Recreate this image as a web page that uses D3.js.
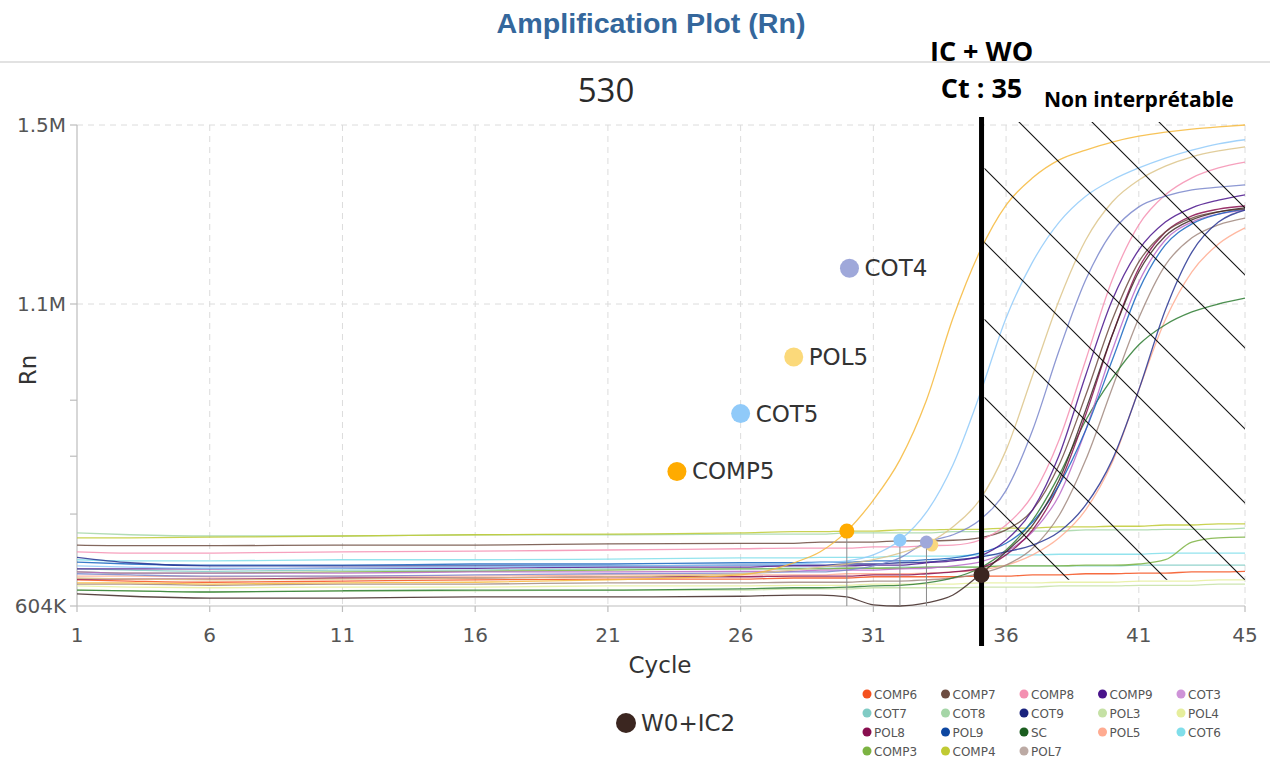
<!DOCTYPE html>
<html lang="fr">
<head>
  <meta charset="UTF-8">
  <title>Amplification Plot (Rn)</title>
  <script src="https://cdn.jsdelivr.net/npm/d3@7"></script>
  <style>
    body { margin: 0; background: #fff; }
    svg text { font-family: "DejaVu Sans", sans-serif; }
    .grid { stroke: #dcdcdc; stroke-width: 1; stroke-dasharray: 6 5; }
    .axis-line { stroke: #bdbdbd; stroke-width: 1.2; }
    .tick-label { fill: #555; font-size: 20px; }
    .curve { fill: none; stroke-width: 1.3; stroke-opacity: 0.85; }
    .hatch { stroke: #111; stroke-width: 1.1; }
    .legend-text { fill: #555; font-size: 12px; }
    .note { font-family: "Open Sans", "Noto Sans", sans-serif; font-weight: 700; fill: #000; }
  </style>
</head>
<body>
  <svg id="chart" width="1270" height="760"></svg>

  <script>
    const cycles = [1, 3, 6, 11, 16, 21, 26, 28, 29, 30, 31, 32, 33, 34, 35, 36, 37, 38, 39, 40, 41, 42, 43, 44, 45];

    // Rn values, in thousands
    const COMP5 = [642,642,640,642,643,647,655,675,693,727,778,844,942,1077,1216,1321,1382,1422,1444,1462,1475,1484,1491,1496,1500];
    const COT5  = [670,668,666,666,668,670,671,673,675,678,688,712,758,836,950,1077,1194,1283,1341,1377,1404,1426,1444,1458,1467];
    const POL5_Y = [650,648,647,648,650,652,657,663,668,673,680,691,706,734,778,860,983,1109,1243,1328,1377,1408,1429,1442,1451];
    const COT4  = [657,655,653,653,655,657,658,660,660,663,670,683,709,721,745,794,893,1024,1154,1261,1317,1341,1355,1361,1366];
    const COMP8 = [693,691,691,693,694,696,698,699,699,699,701,701,703,704,712,737,786,877,1008,1154,1277,1344,1382,1404,1417];
    const COMP9 = [665,665,665,666,666,668,668,670,670,670,671,671,675,678,686,712,762,852,983,1109,1221,1283,1315,1332,1344];
    const POL8  = [648,648,648,650,650,652,652,653,653,653,655,655,657,660,666,688,729,803,918,1049,1180,1261,1297,1312,1319];
    const COT9  = [684,675,670,670,670,670,671,671,671,673,673,675,676,680,684,693,704,726,770,844,959,1090,1216,1283,1310];
    const POL9  = [676,673,671,671,673,673,675,675,676,676,678,678,680,683,691,707,742,803,893,1008,1131,1232,1279,1301,1312];
    const SC    = [630,629,627,629,630,630,632,634,634,635,637,638,642,650,666,696,745,819,909,978,1033,1066,1087,1100,1113];
    const COMP7 = [704,703,703,704,704,706,707,707,709,709,709,711,711,712,716,729,762,836,950,1074,1194,1261,1292,1306,1312];
    const COT3  = [660,658,658,658,660,660,661,661,663,663,663,665,666,670,676,693,726,786,893,1024,1149,1243,1283,1301,1310];
    const POL7  = [640,640,638,640,640,642,642,643,643,643,645,645,647,650,657,671,699,753,844,962,1077,1187,1248,1277,1292];
    const POL5  = [653,653,652,653,653,655,655,655,655,657,657,657,658,660,663,671,688,716,762,840,959,1074,1172,1234,1270];
    const W0IC2 = [624,620,617,617,619,619,620,622,622,619,606,604,609,622,655,693,737,811,926,1049,1172,1252,1288,1306,1315];
    const COMP4 = [716,716,717,719,721,722,724,726,726,727,727,729,729,730,730,732,732,734,734,735,735,737,737,739,739];
    const COT8  = [724,721,719,719,721,721,722,722,722,724,724,724,724,726,726,727,727,727,729,729,729,730,730,730,732];
    const COMP3 = [660,658,658,660,661,663,665,665,665,666,666,666,668,668,668,670,670,670,671,671,673,680,709,716,717];
    const COT6  = [680,678,678,680,680,681,683,683,684,684,684,686,686,686,688,688,688,689,689,689,689,691,691,691,691];
    const COMP6 = [647,645,643,645,647,648,648,650,650,650,652,652,652,652,653,653,655,655,657,657,658,658,660,660,661];
    const POL3  = [630,629,627,629,629,630,630,632,632,632,634,634,634,634,635,635,635,637,637,637,638,638,638,640,640];
    const POL4  = [637,635,634,635,635,637,637,638,638,638,640,640,640,640,642,642,642,643,643,643,645,645,645,647,647];
    const COT7  = [665,663,661,663,663,665,665,666,666,666,666,668,668,668,668,670,670,670,670,670,671,671,671,671,671];

    // Legend (order as in the picture)
    const legendNames  = ['COMP6','COMP7','COMP8','COMP9','COT3','COT7','COT8','COT9','POL3','POL4','POL8','POL9','SC','POL5','COT6','COMP3','COMP4','POL7'];
    const legendColors = ['#f4511e','#6d4c41','#f48fb1','#4a148c','#ce93d8','#80cbc4','#a5d6a7','#1a237e','#c5e1a5','#e6ee9c','#880e4f','#0d47a1','#1b5e20','#ffab91','#80deea','#7cb342','#c0ca33','#bcaaa4'];

    // Ct markers: cycle, Rn (K); POL5 has no drop line
    const ctNames  = ['COMP5', 'COT5', 'POL5', 'COT4'];
    const ctCycles = [30, 32, 33.2, 33];
    const ctRn     = [727, 712, 704, 709];
    const ctColors = ['#ffab00', '#90caf9', '#f9d77e', '#9fa8da'];

    // Labelled wells floating in the plot: cycle, Rn (K)
    const tagNames  = ['COT4', 'POL5', 'COT5', 'COMP5'];
    const tagCycles = [30.1, 28.0, 26.0, 23.6];
    const tagRn     = [1180, 1013, 920, 825];
    const tagColors = ['#9fa8da', '#fbd97a', '#90caf9', '#ffab00'];

    const xTicks = [1, 6, 11, 16, 21, 26, 31, 36, 41, 45];
    const yTicks = [604, 1100, 1500];
    const yTickLabels = ['604K', '1.1M', '1.5M'];
    const yMinorTicks = [755, 850, 942];

    const ctLine = 35;          // IC + WO Ct
    const ctLineRn = 655;
    const hatchOffsets = [-1037, -970, -897, -816, -742, -665, -587, -489];

    // ---- drawing ----
    const svg = d3.select('#chart');
    const x = d3.scaleLinear().domain([1, 45]).range([77, 1245]);
    const y = d3.scaleLinear().domain([604, 1100, 1500]).range([606, 304, 125]);

    // header
    svg.append('text')
      .attr('x', 651).attr('y', 33)
      .attr('text-anchor', 'middle')
      .attr('textLength', 309).attr('lengthAdjust', 'spacingAndGlyphs')
      .style('font-family', '"Liberation Sans Narrow", "Liberation Sans", Arial, sans-serif')
      .style('font-weight', 700).style('font-size', '27px')
      .style('fill', '#34679c')
      .text('Amplification Plot (Rn)');

    svg.append('line')
      .attr('x1', 0).attr('x2', 1270).attr('y1', 62).attr('y2', 62)
      .style('stroke', '#e2e2e2').style('stroke-width', 2);

    svg.append('text')
      .attr('x', 606).attr('y', 102)
      .attr('text-anchor', 'middle')
      .style('font-family', '"Open Sans", sans-serif')
      .style('font-size', '33px').style('fill', '#2a2a2a')
      .text('530');

    // grid
    const grid = svg.append('g');
    grid.selectAll('.vg').data(xTicks.slice(1)).enter().append('line')
      .attr('class', 'grid')
      .attr('x1', d => x(d)).attr('x2', d => x(d))
      .attr('y1', y(1500)).attr('y2', y(604));
    grid.selectAll('.hg').data([1100, 1500]).enter().append('line')
      .attr('class', 'grid')
      .attr('x1', x(1)).attr('x2', x(45))
      .attr('y1', d => y(d)).attr('y2', d => y(d));

    // axes
    const axes = svg.append('g');
    axes.append('line').attr('class', 'axis-line')
      .attr('x1', x(1)).attr('x2', x(1)).attr('y1', y(1500)).attr('y2', y(604));
    axes.append('line').attr('class', 'axis-line')
      .attr('x1', x(1)).attr('x2', x(45)).attr('y1', y(604)).attr('y2', y(604));

    axes.selectAll('.yt').data(yTicks.concat(yMinorTicks)).enter().append('line')
      .attr('class', 'axis-line')
      .attr('x1', x(1) - 7).attr('x2', x(1))
      .attr('y1', d => y(d)).attr('y2', d => y(d));
    axes.selectAll('.yl').data(yTicks).enter().append('text')
      .attr('class', 'tick-label')
      .attr('x', x(1) - 11).attr('y', d => y(d) + 7)
      .attr('text-anchor', 'end')
      .text((d, i) => yTickLabels[i]);

    axes.selectAll('.xt').data(xTicks).enter().append('line')
      .attr('class', 'axis-line')
      .attr('x1', d => x(d)).attr('x2', d => x(d))
      .attr('y1', y(604)).attr('y2', y(604) + 6);
    axes.selectAll('.xl').data(xTicks).enter().append('text')
      .attr('class', 'tick-label')
      .attr('x', d => x(d)).attr('y', 642)
      .attr('text-anchor', 'middle')
      .text(d => d);

    svg.append('text')
      .attr('x', 660).attr('y', 673)
      .attr('text-anchor', 'middle')
      .style('font-size', '23px').style('fill', '#333')
      .text('Cycle');
    svg.append('text')
      .attr('transform', 'translate(36,370) rotate(-90)')
      .attr('text-anchor', 'middle')
      .style('font-size', '23px').style('fill', '#333')
      .text('Rn');

    // amplification curves, flat ones first
    const series = [
      { values: POL3,  color: '#c5e1a5' },
      { values: POL4,  color: '#e6ee9c' },
      { values: COMP6, color: '#f4511e' },
      { values: COT7,  color: '#80cbc4' },
      { values: COT6,  color: '#80deea' },
      { values: COMP3, color: '#7cb342' },
      { values: COT8,  color: '#a5d6a7' },
      { values: COMP4, color: '#c0ca33' },
      { values: POL5,  color: '#ffab91' },
      { values: POL7,  color: '#a1887f' },
      { values: SC,    color: '#2e7d32' },
      { values: COT3,  color: '#ba68c8' },
      { values: POL8,  color: '#880e4f' },
      { values: POL9,  color: '#1565c0' },
      { values: COT9,  color: '#283593' },
      { values: COMP7, color: '#6d4c41' },
      { values: COMP9, color: '#4a148c' },
      { values: W0IC2, color: '#3e2723' },
      { values: COMP8, color: '#f48fb1' },
      { values: COT4,  color: '#7986cb' },
      { values: POL5_Y, color: '#dcc48a' },
      { values: COT5,  color: '#90caf9' },
      { values: COMP5, color: '#f6b93b' }
    ];

    const line = d3.line()
      .x((d, i) => x(cycles[i]))
      .y(d => y(d))
      .curve(d3.curveMonotoneX);

    svg.append('g').selectAll('path').data(series).enter().append('path')
      .attr('class', 'curve')
      .attr('d', d => line(d.values))
      .style('stroke', d => d.color);

    // Ct drop lines
    const dropIdx = ctNames.map((n, i) => i).filter(i => ctNames[i] !== 'POL5');
    svg.append('g').selectAll('line').data(dropIdx).enter().append('line')
      .attr('x1', i => x(ctCycles[i])).attr('x2', i => x(ctCycles[i]))
      .attr('y1', i => y(ctRn[i])).attr('y2', y(604))
      .style('stroke', '#8a8a8a').style('stroke-width', 1);

    // hatched "non interprétable" zone
    svg.append('clipPath').attr('id', 'hatch-clip')
      .append('rect')
      .attr('x', x(ctLine) + 5).attr('y', y(1500) - 3)
      .attr('width', x(45) - x(ctLine) - 5)
      .attr('height', y(647) - y(1500) + 3);
    svg.append('g').attr('clip-path', 'url(#hatch-clip)')
      .selectAll('line').data(hatchOffsets).enter().append('line')
      .attr('class', 'hatch')
      .attr('x1', 900).attr('y1', d => 900 + d)
      .attr('x2', 1300).attr('y2', d => 1300 + d);

    // Ct = 35 line
    svg.append('line')
      .attr('x1', x(ctLine) + 2).attr('x2', x(ctLine) + 2)
      .attr('y1', 117).attr('y2', 646)
      .style('stroke', '#000').style('stroke-width', 5);

    // Ct dots
    svg.append('g').selectAll('circle').data(ctCycles).enter().append('circle')
      .attr('cx', d => x(d)).attr('cy', (d, i) => y(ctRn[i]))
      .attr('r', (d, i) => i === 0 ? 7.5 : 6.5)
      .style('fill', (d, i) => ctColors[i]);

    svg.append('circle')
      .attr('cx', x(ctLine) + 2).attr('cy', y(ctLineRn)).attr('r', 8)
      .style('fill', '#3b2620');

    // floating well labels
    const tags = svg.append('g').selectAll('g').data(tagNames).enter().append('g')
      .attr('transform', (d, i) => `translate(${x(tagCycles[i])},${y(tagRn[i])})`);
    tags.append('circle').attr('r', 9.5).style('fill', (d, i) => tagColors[i]);
    tags.append('text')
      .attr('x', 15).attr('y', 8)
      .style('font-size', '23px').style('fill', '#333')
      .text(d => d);

    // W0+IC2 marker below the chart
    svg.append('circle').attr('cx', 626).attr('cy', 723).attr('r', 10).style('fill', '#3b2620');
    svg.append('text')
      .attr('x', 641).attr('y', 731)
      .style('font-size', '23px').style('fill', '#333')
      .text('W0+IC2');

    // notes
    svg.append('text').attr('class', 'note')
      .attr('x', x(ctLine) + 2).attr('y', 61).attr('text-anchor', 'middle')
      .style('font-size', '27px').text('IC + WO');
    svg.append('text').attr('class', 'note')
      .attr('x', x(ctLine) + 2).attr('y', 98).attr('text-anchor', 'middle')
      .style('font-size', '27px').text('Ct : 35');
    svg.append('text').attr('class', 'note')
      .attr('x', 1044).attr('y', 107)
      .style('font-size', '21px').text('Non interprétable');

    // legend
    const legend = svg.append('g').selectAll('g').data(legendNames).enter().append('g')
      .attr('transform', (d, i) => `translate(${867 + (i % 5) * 78.5},${694 + Math.floor(i / 5) * 19})`);
    legend.append('circle').attr('r', 4.5).style('fill', (d, i) => legendColors[i]);
    legend.append('text').attr('class', 'legend-text')
      .attr('x', 7).attr('y', 4.5)
      .text(d => d);
  </script>
</body>
</html>
